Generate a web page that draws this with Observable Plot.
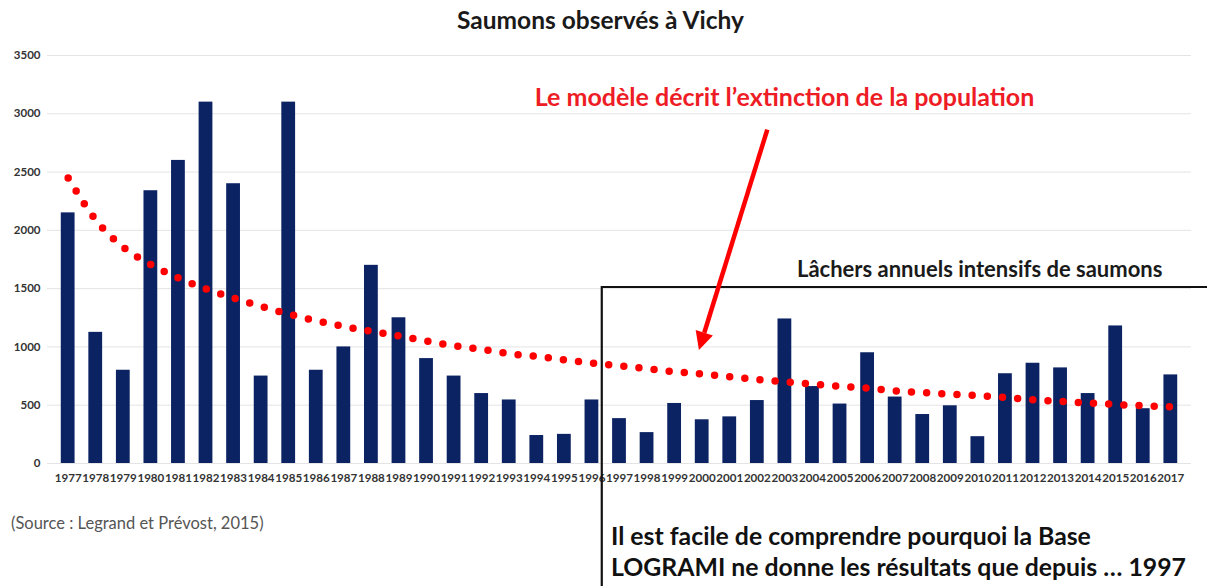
<!DOCTYPE html>
<html><head><meta charset="utf-8">
<script src="https://cdn.jsdelivr.net/npm/d3@7"></script>
<script src="https://cdn.jsdelivr.net/npm/@observablehq/plot@0.6"></script>
<style>
body{margin:0;background:#fff;font-family:Lato,"Open Sans",sans-serif;}
#wrap{position:relative;width:1207px;height:586px;overflow:hidden;background:#fff}
#wrap > svg{position:absolute;left:0;top:0}
.t{position:absolute;white-space:nowrap;font-weight:700;line-height:1}
</style></head><body><div id="wrap"></div>
<script>
const years = [1977,1978,1979,1980,1981,1982,1983,1984,1985,1986,1987,1988,1989,1990,1991,1992,1993,1994,1995,1996,1997,1998,1999,2000,2001,2002,2003,2004,2005,2006,2007,2008,2009,2010,2011,2012,2013,2014,2015,2016,2017];
const observed = [2150,1125,800,2340,2600,3100,2400,750,3100,800,1000,1700,1250,900,750,600,545,240,250,545,385,265,515,375,400,540,1240,660,510,950,570,420,495,230,770,860,820,600,1180,470,760];
const model = [2450,2090,1855,1706,1591,1497,1420,1348,1282,1225,1176,1133,1094,1050,1010,979,942,919,890,861,839,813,787,767,744,721,700,681,663,646,623,609,595,583,566,546,532,520,506,495,486];
const yTicks = [0,500,1000,1500,2000,2500,3000,3500];

const title = "Saumons observés à Vichy";
const modelNote = "Le modèle décrit l’extinction de la population";
const releaseNote = "Lâchers annuels intensifs de saumons";
const source = "(Source : Legrand et Prévost, 2015)";
const conclusion = ["Il est facile de comprendre pourquoi la Base", "LOGRAMI ne donne les résultats que depuis … 1997"];

const data = years.map((y, i) => ({year: String(y), observed: observed[i], model: model[i]}));

const chart = Plot.plot({
  width: 1207, height: 586,
  marginTop: 55, marginBottom: 123, marginLeft: 47, marginRight: 16,
  x: {domain: years.map(String), padding: 0.5, round: false, label: null},
  y: {domain: [0, 3500], label: null},
  style: {fontFamily: "Lato, sans-serif", background: "transparent", overflow: "visible"},
  marks: [
    Plot.gridY(yTicks, {stroke: "#e4e4e4", strokeOpacity: 1, strokeWidth: 1}),
    Plot.barY(data, {x: "year", y: "observed", fill: "#0b2363"}),
    Plot.line(data, {x: "year", y: "model", stroke: "#ff0000", strokeWidth: 7.5, strokeDasharray: "0,15.2", strokeLinecap: "round", curve: "monotone-x"}),
    Plot.axisY(yTicks, {tickSize: 0, tickPadding: 7, fontWeight: 700, fontSize: 11.5, fill: "#333", tickFormat: d => String(d)}),
    Plot.axisX({tickSize: 0, tickPadding: 10, fontWeight: 700, fontSize: 11.6, fill: "#333", letterSpacing: "-0.3px"})
  ]
});
const wrap = document.getElementById("wrap");
wrap.appendChild(chart);

const xs = chart.scale("x"), ys = chart.scale("y");
const bw = xs.bandwidth, step = xs.step;
const cx = v => xs.apply(String(v)) + bw / 2;

const svg = d3.select(wrap).append("svg")
  .attr("width", 1207).attr("height", 586)
  .style("position", "absolute").style("left", 0).style("top", 0);

// box of intensive releases
const boxLeft = xs.apply("1996") + bw + (step - bw) * 0.25;
const boxTop = ys.apply(1510);
svg.append("path")
  .attr("d", `M${boxLeft},600 L${boxLeft},${boxTop} L1212,${boxTop}`)
  .attr("fill", "none").attr("stroke", "#111").attr("stroke-width", 2.2);

// red arrow
const ax1 = cx(2002) + step * 0.38, ay1 = ys.apply(2860);
const ax2 = cx(2000) - step * 0.1, ay2 = ys.apply(970);
const ang = Math.atan2(ay2 - ay1, ax2 - ax1);
const hl = 18, hw = 9;
const bx = ax2 - hl * Math.cos(ang), by = ay2 - hl * Math.sin(ang);
svg.append("line")
  .attr("x1", ax1).attr("y1", ay1).attr("x2", bx).attr("y2", by)
  .attr("stroke", "#ff0000").attr("stroke-width", 4.5);
svg.append("path")
  .attr("d", `M${ax2},${ay2} L${bx + hw * Math.sin(ang)},${by - hw * Math.cos(ang)} L${bx - hw * Math.sin(ang)},${by + hw * Math.cos(ang)} Z`)
  .attr("fill", "#ff0000");

function addText(txt, left, top, size, color, extra) {
  const d = document.createElement("div");
  d.className = "t";
  d.textContent = txt;
  d.style.left = left + "px";
  d.style.top = top + "px";
  d.style.fontSize = size + "px";
  d.style.color = color;
  if (extra) Object.assign(d.style, extra);
  wrap.appendChild(d);
  return d;
}
addText(title, -3, 8, 24.5, "#1a1a1a", {width: "1207px", textAlign: "center"});
addText(modelNote, 181, 84, 25, "#ee1c25", {width: "1207px", textAlign: "center"});
addText(releaseNote, 797, 258, 22, "#1a1a1a");
addText(source, 11, 515, 16.5, "#555", {fontWeight: 400});
addText(conclusion[0], 611, 524, 24.8, "#111");
addText(conclusion[1], 611, 555, 24.8, "#111");
</script></body></html>
